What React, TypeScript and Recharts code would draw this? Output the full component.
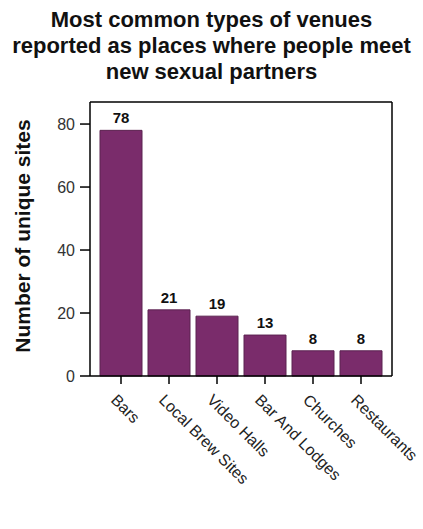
import React from 'react';
import { BarChart, Bar, XAxis, YAxis, LabelList, Label } from 'recharts';

const categories = ['Bars', 'Local Brew Sites', 'Video Halls', 'Bar And Lodges', 'Churches', 'Restaurants'];
const counts = [78, 21, 19, 13, 8, 8];
const yTicks = [0, 20, 40, 60, 80];
const titleLines = ['Most common types of venues', 'reported as places where people meet', 'new sexual partners'];

const data = categories.map((c, i) => ({ name: c, value: counts[i] }));

const FONT = '"Liberation Sans", Arial, sans-serif';

const XTick = (props: any) => {
  const { x, y, payload } = props;
  const tx = x - 11;
  const ty = y + 15;
  return (
    <text
      x={tx}
      y={ty}
      transform={`rotate(45, ${tx}, ${ty})`}
      textAnchor="start"
      fontSize={16}
      fontFamily={FONT}
      fill="#222"
    >
      {payload.value}
    </text>
  );
};

export default function App() {
  return (
    <div style={{ position: 'absolute', left: 0, top: 0, width: 423, height: 529, background: '#fff' }}>
      <div
        style={{
          position: 'absolute',
          left: 0,
          top: 7,
          width: 423,
          textAlign: 'center',
          fontFamily: FONT,
          fontWeight: 'bold',
          fontSize: 22,
          lineHeight: '26px',
          color: '#111',
        }}
      >
        {titleLines.map((l) => (
          <div key={l}>{l}</div>
        ))}
      </div>
      <div style={{ position: 'absolute', left: 0, top: 0 }}>
        <BarChart
          width={423}
          height={529}
          data={data}
          margin={{ top: 101, right: 30, bottom: 0, left: 0 }}
          barCategoryGap={3}
        >
          <XAxis
            dataKey="name"
            interval={0}
            tick={<XTick />}
            tickSize={8}
            tickLine={{ stroke: '#000', strokeWidth: 1.5 }}
            axisLine={{ stroke: '#000', strokeWidth: 1.5 }}
            padding={{ left: 7, right: 7 }}
            height={153}
          />
          <XAxis
            xAxisId="top"
            dataKey="name"
            orientation="top"
            tick={false}
            tickLine={false}
            axisLine={{ stroke: '#000', strokeWidth: 1.5 }}
            height={1}
          />
          <YAxis
            domain={[0, 87]}
            ticks={yTicks}
            tickSize={10}
            tickMargin={5}
            tick={{ fontSize: 16, fontFamily: FONT, fill: '#333' }}
            tickLine={{ stroke: '#000', strokeWidth: 1.5 }}
            axisLine={{ stroke: '#000', strokeWidth: 1.5 }}
            width={90}
          >
            <Label
              value="Number of unique sites"
              content={() => (
                <text
                  x={22}
                  y={236}
                  transform="rotate(-90, 22, 236)"
                  textAnchor="middle"
                  dominantBaseline="central"
                  fontSize={21}
                  fontWeight="bold"
                  fontFamily={FONT}
                  fill="#111"
                >
                  Number of unique sites
                </text>
              )}
            />
          </YAxis>
          <YAxis
            yAxisId="right"
            orientation="right"
            domain={[0, 87]}
            tick={false}
            tickLine={false}
            axisLine={{ stroke: '#000', strokeWidth: 1.5 }}
            width={1}
          />
          <Bar dataKey="value" fill="#7a2c6b" stroke="#5b2250" strokeWidth={1} isAnimationActive={false}>
            <LabelList
              dataKey="value"
              position="top"
              offset={7}
              style={{ fontSize: 15, fontWeight: 'bold', fontFamily: FONT, fill: '#111' }}
            />
          </Bar>
        </BarChart>
      </div>
    </div>
  );
}
